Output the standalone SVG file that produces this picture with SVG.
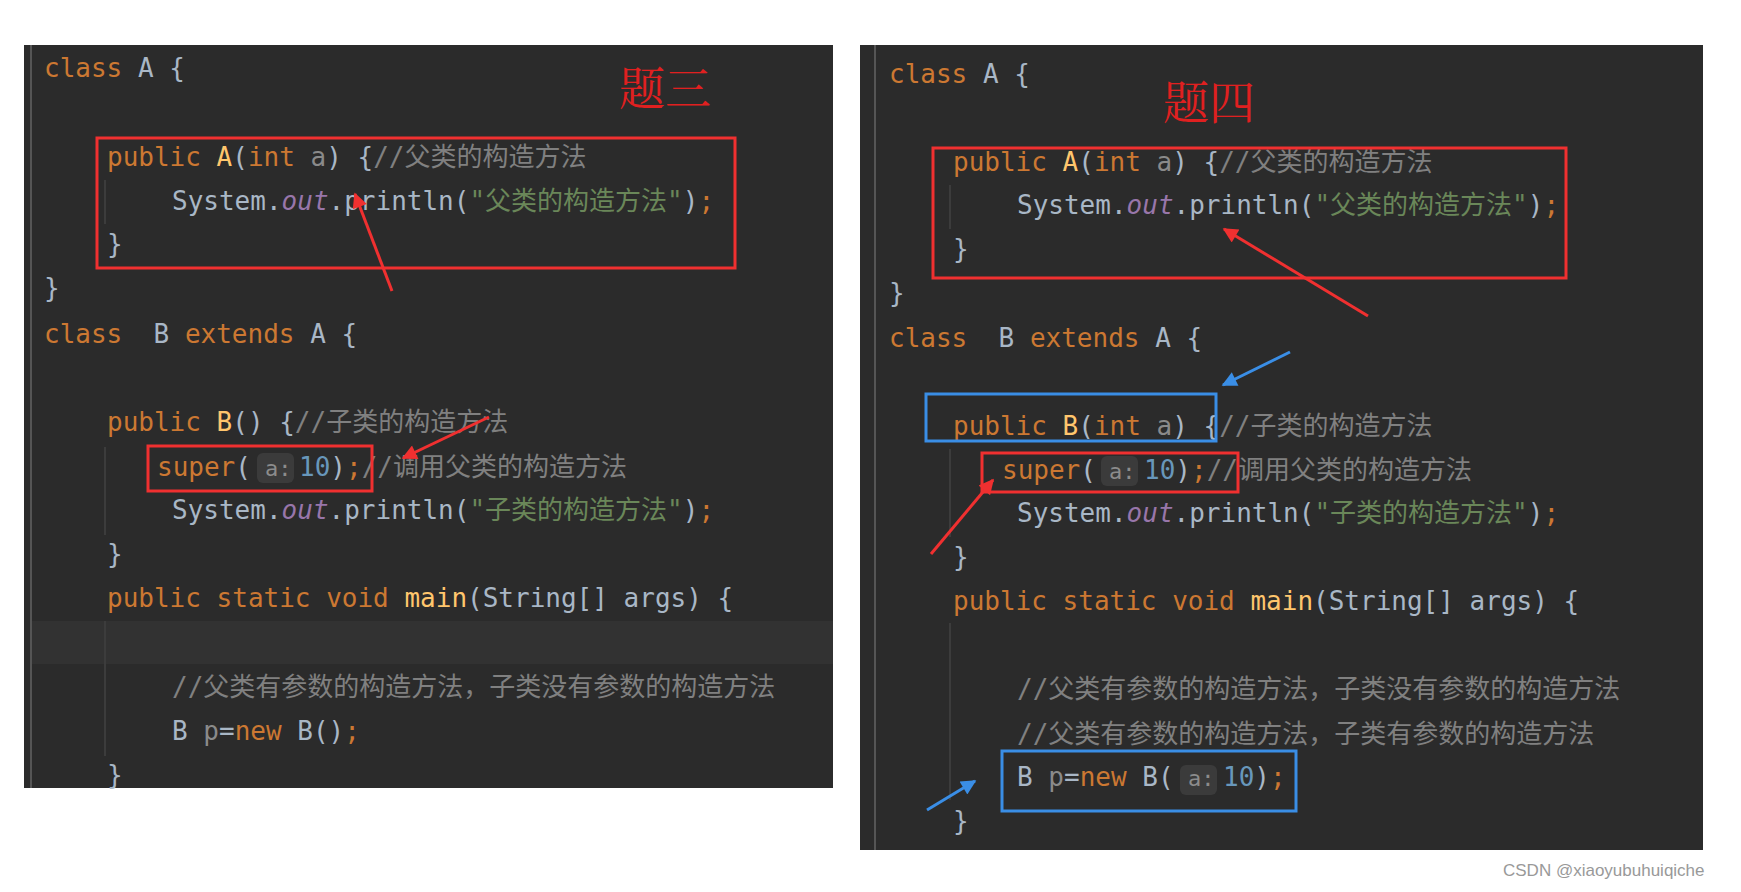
<svg xmlns="http://www.w3.org/2000/svg" width="1741" height="892" viewBox="0 0 1741 892">
<style>
.c{font-family:"DejaVu Sans Mono","Noto Sans CJK SC",monospace;font-size:26px;fill:#a9b7c6;white-space:pre}
.k{fill:#cc7832}.m{fill:#808080}.s{fill:#6a8759}.i{fill:#9876aa;font-style:italic}.y{fill:#ffc66d}.n{fill:#6897bb}.g{fill:#8a8a8a}
.h{font-size:22px;fill:#8c8c8c}
.rb{fill:none;stroke:#f03030;stroke-width:3}
.bb{fill:none;stroke:#3a8ee6;stroke-width:3}
.ra{stroke:#f03030;stroke-width:3;marker-end:url(#mr)}
.ba{stroke:#3a8ee6;stroke-width:3;marker-end:url(#mb)}
.t{font-family:"Noto Serif CJK SC","Noto Sans CJK SC",serif;font-size:46px;fill:#e02020}
</style>
<defs>
<marker id="mr" viewBox="0 0 10 10" refX="9" refY="5" markerWidth="6" markerHeight="5" orient="auto" markerUnits="strokeWidth"><path d="M0,0L10,5L0,10z" fill="#f03030"/></marker>
<marker id="mb" viewBox="0 0 10 10" refX="9" refY="5" markerWidth="6" markerHeight="5" orient="auto" markerUnits="strokeWidth"><path d="M0,0L10,5L0,10z" fill="#3a8ee6"/></marker>
</defs>
<rect width="1741" height="892" fill="#fff"/>
<g id="panel3">
<rect x="24" y="45" width="809" height="743" fill="#2b2b2b"/>
<rect x="32" y="621" width="801" height="43" fill="#323232"/>
<line x1="31" y1="45" x2="31" y2="788" stroke="#555" stroke-width="2"/>
<line x1="105" y1="180" x2="105" y2="224" stroke="#3c3c3c" stroke-width="2"/>
<line x1="105" y1="447" x2="105" y2="535" stroke="#3c3c3c" stroke-width="2"/>
<line x1="105" y1="621" x2="105" y2="756" stroke="#3c3c3c" stroke-width="2"/>
<text class="c" x="44" y="77"><tspan class="k">class</tspan> A {</text>
<text class="c" x="107" y="166"><tspan class="k">public</tspan> <tspan class="y">A</tspan>(<tspan class="k">int</tspan> <tspan class="g">a</tspan>) {<tspan class="m">//父类的构造方法</tspan></text>
<text class="c" x="172" y="210">System.<tspan class="i">out</tspan>.println(<tspan class="s">"父类的构造方法"</tspan>)<tspan class="k">;</tspan></text>
<text class="c" x="107" y="253">}</text>
<text class="c" x="44" y="297">}</text>
<text class="c" x="44" y="343"><tspan class="k">class</tspan>  B <tspan class="k">extends</tspan> A {</text>
<text class="c" x="107" y="431"><tspan class="k">public</tspan> <tspan class="y">B</tspan>() {<tspan class="m">//子类的构造方法</tspan></text>
<rect x="257" y="453" width="37" height="30" rx="6" fill="#3b3b3b"/>
<text class="c" x="157" y="476"><tspan class="k">super</tspan>(</text>
<text class="c h" x="265" y="476">a:</text>
<text class="c" x="299" y="476"><tspan class="n">10</tspan>)<tspan class="k">;</tspan><tspan class="m">//调用父类的构造方法</tspan></text>
<text class="c" x="172" y="519">System.<tspan class="i">out</tspan>.println(<tspan class="s">"子类的构造方法"</tspan>)<tspan class="k">;</tspan></text>
<text class="c" x="107" y="563">}</text>
<text class="c" x="107" y="607"><tspan class="k">public static void</tspan> <tspan class="y">main</tspan>(String[] args) {</text>
<text class="c m" x="172" y="696">//父类有参数的构造方法，子类没有参数的构造方法</text>
<text class="c" x="172" y="740">B <tspan class="g">p</tspan>=<tspan class="k">new</tspan> B()<tspan class="k">;</tspan></text>
<text class="c" x="107" y="784">}</text>
</g>
<g id="panel4">
<rect x="860" y="45" width="843" height="805" fill="#2b2b2b"/>
<line x1="875" y1="45" x2="875" y2="850" stroke="#555" stroke-width="2"/>
<line x1="950" y1="185" x2="950" y2="229" stroke="#3c3c3c" stroke-width="2"/>
<line x1="950" y1="449" x2="950" y2="537" stroke="#3c3c3c" stroke-width="2"/>
<line x1="950" y1="623" x2="950" y2="800" stroke="#3c3c3c" stroke-width="2"/>
<text class="c" x="889" y="83"><tspan class="k">class</tspan> A {</text>
<text class="c" x="953" y="171"><tspan class="k">public</tspan> <tspan class="y">A</tspan>(<tspan class="k">int</tspan> <tspan class="g">a</tspan>) {<tspan class="m">//父类的构造方法</tspan></text>
<text class="c" x="1017" y="214">System.<tspan class="i">out</tspan>.println(<tspan class="s">"父类的构造方法"</tspan>)<tspan class="k">;</tspan></text>
<text class="c" x="953" y="258">}</text>
<text class="c" x="889" y="302">}</text>
<text class="c" x="889" y="347"><tspan class="k">class</tspan>  B <tspan class="k">extends</tspan> A {</text>
<text class="c" x="953" y="435"><tspan class="k">public</tspan> <tspan class="y">B</tspan>(<tspan class="k">int</tspan> <tspan class="g">a</tspan>) {<tspan class="m">//子类的构造方法</tspan></text>
<rect x="1101" y="456" width="37" height="30" rx="6" fill="#3b3b3b"/>
<text class="c" x="1002" y="479"><tspan class="k">super</tspan>(</text>
<text class="c h" x="1109" y="479">a:</text>
<text class="c" x="1144" y="479"><tspan class="n">10</tspan>)<tspan class="k">;</tspan><tspan class="m">//调用父类的构造方法</tspan></text>
<text class="c" x="1017" y="522">System.<tspan class="i">out</tspan>.println(<tspan class="s">"子类的构造方法"</tspan>)<tspan class="k">;</tspan></text>
<text class="c" x="953" y="566">}</text>
<text class="c" x="953" y="610"><tspan class="k">public static void</tspan> <tspan class="y">main</tspan>(String[] args) {</text>
<text class="c m" x="1017" y="698">//父类有参数的构造方法，子类没有参数的构造方法</text>
<text class="c m" x="1017" y="743">//父类有参数的构造方法，子类有参数的构造方法</text>
<rect x="1180" y="765" width="37" height="30" rx="6" fill="#3b3b3b"/>
<text class="c" x="1017" y="786">B <tspan class="g">p</tspan>=<tspan class="k">new</tspan> B(</text>
<text class="c h" x="1188" y="786">a:</text>
<text class="c" x="1223" y="786"><tspan class="n">10</tspan>)<tspan class="k">;</tspan></text>
<text class="c" x="953" y="830">}</text>
</g>
<g id="titles">
<text class="t" x="619" y="105">题三</text>
<text class="t" x="1163" y="119">题四</text>
</g>
<g id="boxes">
<rect class="rb" x="97" y="138" width="638" height="130"/>
<rect class="rb" x="148" y="446" width="224" height="45"/>
<rect class="rb" x="933" y="148" width="633" height="130"/>
<rect class="bb" x="926" y="394" width="290" height="47"/>
<rect class="rb" x="982" y="453" width="256" height="39"/>
<rect class="bb" x="1002" y="751" width="294" height="60"/>
</g>
<g id="connectors">
<line class="ra" x1="392" y1="291" x2="355" y2="194"/>
<line class="ra" x1="489" y1="417" x2="403" y2="458"/>
<line class="ra" x1="1368" y1="316" x2="1224" y2="229"/>
<line class="ba" x1="1290" y1="352" x2="1223" y2="385"/>
<line class="ra" x1="931" y1="554" x2="993" y2="480"/>
<line class="ba" x1="927" y1="810" x2="975" y2="781"/>
</g>
<text x="1503" y="876" font-family="Liberation Sans,Arial,sans-serif" font-size="17" fill="#999">CSDN @xiaoyubuhuiqiche</text>
</svg>
